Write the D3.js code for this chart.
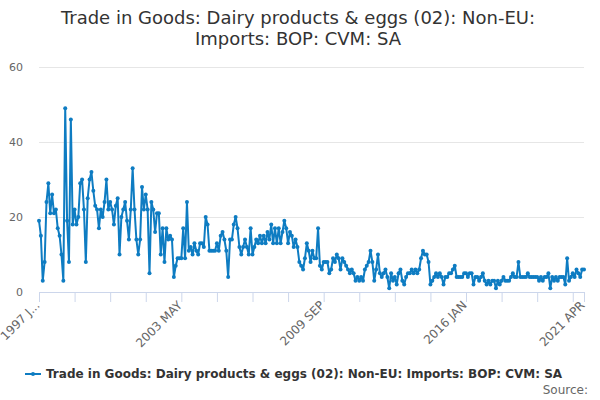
<!DOCTYPE html>
<html>
<head>
<meta charset="utf-8">
<script src="https://cdn.jsdelivr.net/npm/d3@7/dist/d3.min.js"></script>
<style>
  body { margin: 0; background: #fff; }
  svg { font-family: "DejaVu Sans", sans-serif; }
</style>
</head>
<body>
<svg width="600" height="400"></svg>
<script>
// monthly series, Jan 1997 .. Apr 2021
const startYear = 1997;
const values = [
  19, 15, 3, 8, 24, 29, 21, 26, 21, 22, 17, 15, 10, 3, 49, 19, 8, 46, 18, 22, 18, 20, 29, 30, 22, 8, 25, 30, 32, 27, 23,
  22, 17, 22, 20, 24, 30, 22, 24, 22, 18, 23, 25, 10, 20, 22, 24, 19, 14, 22, 33, 22, 14, 10, 14, 28, 22, 26, 22, 5, 24, 22, 16, 21, 21,
  10, 17, 8, 17, 14, 15, 14, 4, 7, 9, 9, 9, 17, 9, 24, 11, 12, 10, 13, 11, 10, 13, 13, 12, 20, 18, 11, 11, 11, 11, 13, 11, 15, 16, 14, 11, 4, 14, 14, 18, 20, 17,
  12, 10, 12, 14, 12, 10, 17, 10, 12, 14, 13, 15, 13, 15, 13, 16, 14, 18, 13, 17, 13, 17, 13, 16, 19, 17, 13, 16, 15, 12, 14, 12, 8, 7, 6, 9, 13, 11, 8, 11, 9, 9, 17, 7, 6, 8,
  8, 8, 5, 6, 9, 8, 10, 9, 6, 9, 8, 7, 6, 5, 6, 5, 3, 4, 3, 4, 3, 6, 7, 8, 11, 8, 3, 6, 10, 5, 4, 5, 6, 4, 1, 5, 3, 4, 2, 5, 6, 3, 2, 4, 5,
  5, 6, 5, 6, 5, 6, 9, 11, 10, 10, 8, 2, 3, 4, 5, 4, 5, 4, 2, 4, 4, 5, 5, 6, 7, 4, 4, 4, 4, 5, 5, 4, 5, 5, 2, 4, 4, 3, 4, 5, 3, 2, 3, 2, 3, 3,
  1, 3, 2, 3, 4, 3, 3, 3, 4, 5, 4, 4, 8, 4, 4, 4, 4, 5, 4, 4, 4, 4, 4, 3, 4, 3, 4, 4, 5,
  1, 4, 3, 4, 3, 4, 4, 4, 2, 9, 3, 4, 5, 4, 6, 5, 4, 6, 6
];
const yTicks = [0, 20, 40, 60];
const tickStep = 19;          // months between axis ticks
const labelEvery = 4;         // label every 4th tick
const seriesName = 'Trade in Goods: Dairy products & eggs (02): Non-EU: Imports: BOP: CVM: SA';
const titleLines = ['Trade in Goods: Dairy products & eggs (02): Non-EU:', 'Imports: BOP: CVM: SA'];
const months = ['JAN','FEB','MAR','APR','MAY','JUN','JUL','AUG','SEP','OCT','NOV','DEC'];

const svg = d3.select('svg');
const margin = {top: 67, right: 16, bottom: 108, left: 39};
const width = +svg.attr('width');
const height = +svg.attr('height');
const innerWidth = width - margin.left - margin.right;
const innerHeight = height - margin.top - margin.bottom;

const color = '#0e7cc2';

const xScale = d3.scaleLinear()
  .domain([0, values.length - 1])
  .range([0, innerWidth]);

const yScale = d3.scaleLinear()
  .domain([0, 60])
  .range([innerHeight, 0]);

const label = i => {
  const s = `${startYear + Math.floor(i / 12)} ${months[i % 12]}`;
  return i === 0 ? s.slice(0, 6) + '...' : s;
};

// title
svg.append('g').selectAll('text')
  .data(titleLines)
  .join('text')
  .attr('x', 298)
  .attr('y', (d, i) => 24 + i * 21)
  .attr('text-anchor', 'middle')
  .attr('fill', '#333333')
  .attr('font-size', 18)
  .text(d => d);

const g = svg.append('g')
  .attr('transform', `translate(${margin.left},${margin.top})`);

// y grid + labels
const yAxis = d3.axisLeft(yScale)
  .tickValues(yTicks)
  .tickSize(-innerWidth)
  .tickPadding(16);
g.append('g').call(yAxis)
  .call(a => a.select('.domain').remove())
  .call(a => a.selectAll('line').attr('stroke', '#e6e6e6'))
  .call(a => a.selectAll('text').attr('fill', '#666666').attr('font-size', 11)
    .attr('font-family', 'DejaVu Sans, sans-serif'));

// x axis
const xTickVals = d3.range(0, values.length, tickStep).concat([values.length - 1]);
const isLabelled = d => d === values.length - 1 || (d / tickStep) % labelEvery === 0;
const xAxis = d3.axisBottom(xScale)
  .tickValues(xTickVals)
  .tickSize(10)
  .tickSizeOuter(0)
  .tickFormat(d => isLabelled(d) ? label(d) : '');
g.append('g')
  .attr('transform', `translate(0,${innerHeight})`)
  .call(xAxis)
  .call(a => a.select('.domain').attr('stroke', '#ccd6eb'))
  .call(a => a.selectAll('line').attr('stroke', '#ccd6eb'))
  .call(a => a.selectAll('.tick').filter(d => !isLabelled(d)).select('text').remove())
  .call(a => a.selectAll('text')
    .attr('fill', '#666666')
    .attr('font-size', 12)
    .attr('font-family', 'DejaVu Sans, sans-serif')
    .attr('text-anchor', 'end')
    .attr('dy', null)
    .attr('y', 0)
    .attr('transform', 'translate(1,14) rotate(-45)'));

// line + markers
const line = d3.line()
  .x((d, i) => xScale(i))
  .y(d => yScale(d));

g.append('path')
  .datum(values)
  .attr('fill', 'none')
  .attr('stroke', color)
  .attr('stroke-width', 2)
  .attr('stroke-linejoin', 'round')
  .attr('d', line);

g.append('g').selectAll('circle')
  .data(values)
  .join('circle')
  .attr('cx', (d, i) => xScale(i))
  .attr('cy', d => yScale(d))
  .attr('r', 2)
  .attr('fill', color);

// legend
const lg = svg.append('g').attr('transform', 'translate(25,374)');
lg.append('line').attr('x1', 0).attr('x2', 16).attr('stroke', color).attr('stroke-width', 2);
lg.append('circle').attr('cx', 8).attr('r', 2).attr('fill', color);
lg.append('text')
  .attr('x', 21).attr('y', 4)
  .attr('font-size', 12).attr('font-weight', 'bold').attr('fill', '#333333')
  .text(seriesName);

svg.append('text')
  .attr('x', 588).attr('y', 394)
  .attr('text-anchor', 'end')
  .attr('font-size', 12).attr('fill', '#666666')
  .text('Source:');
</script>
</body>
</html>
